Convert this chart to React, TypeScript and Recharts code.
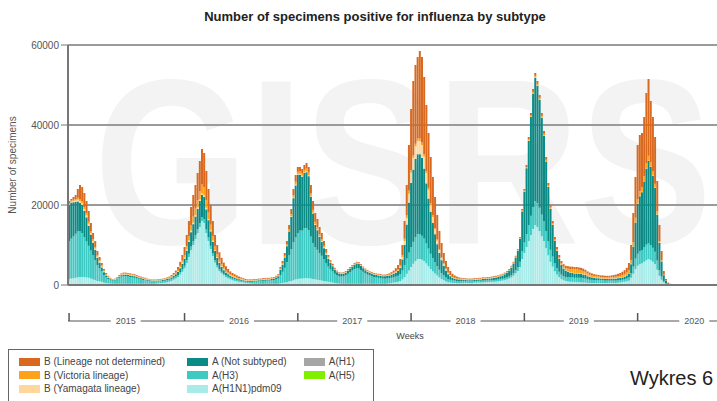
import React from "react";
import { BarChart, Bar, XAxis, YAxis, CartesianGrid } from "recharts";

const FONT = '"Liberation Sans", Arial, sans-serif';

const YEARS = [2015, 2016, 2017, 2018, 2019, 2020];
const WEEKS_IN_YEAR = [53, 52, 52, 52, 52, 53];
const Y_TICKS = [0, 20000, 40000, 60000];

// weekly positives, in thousands of specimens (2020 stops after the last reported week)
const pdm09K = [
  // 2015
  1.5, 1.6, 1.7, 1.8, 1.9, 2.0, 2.0, 2.0, 1.9, 1.8, 1.6, 1.4, 1.2, 1.0, 0.9, 0.8, 0.6, 0.5, 0.4, 0.35,
  0.3, 0.3, 0.3, 0.3, 0.3, 0.3, 0.3, 0.3, 0.3, 0.3, 0.3, 0.3, 0.3, 0.3, 0.3, 0.3, 0.3, 0.3, 0.3, 0.3,
  0.35, 0.4, 0.45, 0.5, 0.6, 0.7, 0.8, 1.0, 1.3, 1.6, 2.0, 2.6, 3.3,
  // 2016
  4.2, 5.5, 7.0, 8.7, 10, 11.5, 13, 14.5, 16, 15.5, 13, 11, 9, 7.2, 5.6, 4.4, 3.5, 2.9, 2.4, 2.0,
  1.7, 1.4, 1.2, 1.0, 0.9, 0.8, 0.7, 0.6, 0.5, 0.45, 0.4, 0.35, 0.3, 0.3, 0.3, 0.3, 0.3, 0.3, 0.3, 0.3,
  0.3, 0.3, 0.3, 0.3, 0.4, 0.5, 0.6, 0.7, 0.9, 1.0, 1.2, 1.4,
  // 2017
  1.5, 1.6, 1.6, 1.7, 1.7, 1.7, 1.6, 1.5, 1.4, 1.3, 1.2, 1.1, 1.0, 0.9, 0.8, 0.7, 0.6, 0.5, 0.4, 0.35,
  0.3, 0.3, 0.3, 0.3, 0.3, 0.3, 0.3, 0.3, 0.3, 0.3, 0.3, 0.3, 0.3, 0.3, 0.3, 0.3, 0.3, 0.3, 0.3, 0.3,
  0.3, 0.35, 0.4, 0.5, 0.6, 0.7, 0.8, 1.0, 1.4, 2.0, 2.8, 3.6,
  // 2018
  4.5, 5.3, 6.0, 6.5, 6.5, 6.3, 6.0, 5.4, 4.7, 4.0, 3.4, 2.9, 2.4, 1.9, 1.5, 1.2, 0.9, 0.7, 0.6, 0.5,
  0.5, 0.45, 0.45, 0.45, 0.45, 0.5, 0.5, 0.5, 0.5, 0.55, 0.55, 0.6, 0.6, 0.65, 0.65, 0.7, 0.7, 0.75, 0.8, 0.85,
  0.9, 1.0, 1.1, 1.2, 1.4, 1.6, 1.9, 2.3, 2.9, 3.5, 4.5, 6.5,
  // 2019
  8, 9.5, 11, 12.5, 14, 15, 14.5, 13.5, 12.2, 11, 9.2, 7.4, 5.8, 4.6, 3.4, 2.6, 2.0, 1.5, 1.2, 1.0,
  0.9, 0.8, 0.8, 0.7, 0.7, 0.7, 0.7, 0.6, 0.6, 0.5, 0.5, 0.5, 0.5, 0.5, 0.5, 0.5, 0.5, 0.5, 0.5, 0.5,
  0.5, 0.5, 0.5, 0.6, 0.6, 0.7, 0.8, 0.9, 1.1, 1.8, 2.8, 4.0,
  // 2020
  4.8, 5.2, 5.4, 5.8, 6.2, 6.5, 6.2, 5.8, 5.2, 3.8, 2.3, 1.3, 0.6, 0.25, 0.1, 0.05,
];

const h3K = [
  // 2015
  9.5, 10, 10.5, 11, 11.5, 11.5, 11, 10, 9, 8, 7, 6, 5, 4, 3.3, 2.6, 1.9, 1.4, 1.1, 0.85,
  0.7, 0.8, 1.1, 1.5, 1.8, 1.9, 1.9, 1.8, 1.7, 1.6, 1.5, 1.4, 1.25, 1.1, 0.95, 0.9, 0.75, 0.7, 0.6, 0.6,
  0.55, 0.55, 0.5, 0.5, 0.5, 0.5, 0.5, 0.5, 0.5, 0.5, 0.5, 0.6, 0.6,
  // 2016
  0.6, 0.7, 0.8, 0.9, 1.0, 1.0, 1.0, 1.0, 1.0, 1.0, 0.9, 0.9, 0.8, 0.7, 0.6, 0.5, 0.5, 0.4, 0.4, 0.4,
  0.4, 0.4, 0.4, 0.4, 0.4, 0.35, 0.35, 0.35, 0.35, 0.35, 0.4, 0.45, 0.55, 0.55, 0.65, 0.65, 0.75, 0.75, 0.8, 0.8,
  0.85, 0.9, 1.1, 1.3, 2.1, 2.8, 3.7, 5.0, 6.5, 8.0, 9.5, 10.5,
  // 2017
  11.5, 12, 12, 12.5, 12.5, 12, 10.5, 9, 8, 7.5, 6.8, 6.2, 5.4, 4.5, 3.8, 3.2, 2.8, 2.3, 2.0, 1.8,
  1.8, 1.9, 2.1, 2.5, 2.9, 3.3, 3.7, 3.9, 3.8, 3.4, 3.0, 2.6, 2.3, 2.1, 1.9, 1.7, 1.6, 1.5, 1.4, 1.3,
  1.3, 1.3, 1.3, 1.3, 1.3, 1.4, 1.5, 1.7, 2.2, 3.0, 3.8, 4.5,
  // 2018
  5, 5.5, 6, 6.2, 6.2, 6, 5.6, 5.0, 4.4, 3.8, 3.3, 2.8, 2.3, 1.9, 1.5, 1.2, 1.0, 0.8, 0.7, 0.6,
  0.6, 0.55, 0.55, 0.55, 0.5, 0.5, 0.45, 0.45, 0.45, 0.45, 0.45, 0.45, 0.45, 0.45, 0.45, 0.45, 0.45, 0.45, 0.45, 0.45,
  0.45, 0.45, 0.45, 0.5, 0.5, 0.5, 0.6, 0.7, 0.8, 1.0, 1.3, 2.0,
  // 2019
  2.6, 3.2, 4.0, 4.8, 5.5, 6, 6, 5.8, 5.4, 5.0, 4.3, 3.6, 3.0, 2.5, 2.0, 1.6, 1.3, 1.1, 1.0, 1.0,
  1.1, 1.1, 1.1, 1.1, 1.1, 1.1, 1.1, 1.1, 1.0, 0.9, 0.8, 0.8, 0.7, 0.7, 0.7, 0.7, 0.7, 0.6, 0.6, 0.6,
  0.6, 0.6, 0.6, 0.6, 0.6, 0.6, 0.6, 0.7, 0.8, 1.2, 1.8, 2.6,
  // 2020
  3.0, 3.2, 3.3, 3.6, 3.9, 4.0, 3.8, 3.5, 3.1, 2.3, 1.4, 0.8, 0.35, 0.15, 0.06, 0.03,
];

const notSubtypedK = [
  // 2015
  9, 9, 8.5, 8, 7.5, 7, 7, 6.5, 6, 5, 4, 3.2, 2.6, 1.8, 1.4, 1.0, 0.7, 0.5, 0.35, 0.25,
  0.2, 0.2, 0.25, 0.3, 0.35, 0.4, 0.4, 0.4, 0.4, 0.4, 0.4, 0.35, 0.3, 0.3, 0.25, 0.2, 0.2, 0.2, 0.2, 0.2,
  0.2, 0.2, 0.2, 0.25, 0.25, 0.3, 0.35, 0.4, 0.5, 0.6, 0.8, 1.0, 1.4,
  // 2016
  1.8, 2.4, 3.0, 3.6, 4.2, 4.6, 5.0, 5.5, 5.5, 5.5, 5.0, 4.3, 3.6, 2.9, 2.3, 1.9, 1.5, 1.2, 0.9, 0.7,
  0.6, 0.5, 0.4, 0.4, 0.35, 0.3, 0.3, 0.25, 0.2, 0.2, 0.2, 0.2, 0.25, 0.25, 0.25, 0.25, 0.25, 0.25, 0.3, 0.3,
  0.35, 0.4, 0.5, 0.6, 1.3, 1.8, 2.6, 4.0, 6.0, 8.0, 11, 13,
  // 2017
  14.5, 14, 13.5, 13.8, 14, 13.5, 10.0, 7.4, 5.6, 4.9, 4.0, 3.5, 2.8, 2.2, 2.0, 1.6, 1.3, 1.0, 0.8, 0.7,
  0.65, 0.65, 0.7, 0.8, 0.9, 1.0, 1.1, 1.2, 1.2, 1.1, 0.9, 0.8, 0.7, 0.6, 0.6, 0.6, 0.6, 0.6, 0.6, 0.6,
  0.6, 0.6, 0.7, 0.8, 0.9, 1.0, 1.2, 1.6, 2.8, 5.0, 8.5, 12.5,
  // 2018
  16, 18, 19.5, 20, 20, 19.5, 17.5, 15, 12.5, 10.5, 8.8, 7.0, 5.5, 4.2, 3.2, 2.4, 1.7, 1.2, 0.9, 0.7,
  0.5, 0.45, 0.4, 0.4, 0.35, 0.3, 0.25, 0.25, 0.25, 0.3, 0.3, 0.35, 0.35, 0.4, 0.4, 0.45, 0.45, 0.5, 0.55, 0.6,
  0.65, 0.75, 0.85, 1.0, 1.2, 1.5, 1.9, 2.4, 3.2, 4.1, 5.8, 9.9,
  // 2019
  12.7, 16.5, 21, 24.7, 28.3, 30.8, 29.3, 27, 24.2, 21.3, 17.4, 13.5, 10.2, 7.9, 5.6, 4.3, 3.2, 2.4, 1.9, 1.6,
  1.3, 1.2, 1.1, 1.1, 1.1, 1.0, 1.0, 0.9, 0.9, 0.8, 0.7, 0.6, 0.6, 0.5, 0.5, 0.4, 0.4, 0.4, 0.4, 0.4,
  0.5, 0.5, 0.5, 0.5, 0.6, 0.6, 0.7, 0.8, 1.0, 2.2, 5.0, 9.0,
  // 2020
  12.5, 13.8, 14.5, 16.5, 19, 20.5, 19.5, 18, 16, 11.5, 6.8, 3.8, 1.5, 0.65, 0.26, 0.13,
];

const yamagataK = [
  // 2015
  0.2, 0.2, 0.3, 0.3, 0.4, 0.5, 0.5, 0.5, 0.5, 0.5, 0.4, 0.4, 0.3, 0.3, 0.3, 0.2, 0.2, 0.1, 0.1, 0.1,
  0.1, 0.1, 0.1, 0.1, 0.1, 0.1, 0.1, 0.1, 0.1, 0.1, 0.1, 0.1, 0.1, 0.1, 0.1, 0.1, 0.1, 0.1, 0.1, 0.1,
  0.1, 0.1, 0.1, 0.1, 0.1, 0.1, 0.1, 0.1, 0.1, 0.1, 0.2, 0.2, 0.3,
  // 2016
  0.3, 0.3, 0.4, 0.4, 0.4, 0.4, 0.4, 0.4, 0.4, 0.4, 0.4, 0.3, 0.3, 0.3, 0.2, 0.2, 0.2, 0.2, 0.2, 0.1,
  0.1, 0.1, 0.1, 0.1, 0.1, 0.1, 0.1, 0.1, 0.1, 0.1, 0.1, 0.1, 0.1, 0.1, 0.1, 0.1, 0.1, 0.1, 0.1, 0.1,
  0.1, 0.1, 0.1, 0.1, 0.1, 0.1, 0.1, 0.1, 0.1, 0.2, 0.2, 0.2,
  // 2017
  0.2, 0.2, 0.2, 0.2, 0.2, 0.2, 0.2, 0.2, 0.2, 0.2, 0.2, 0.2, 0.2, 0.2, 0.2, 0.15, 0.1, 0.1, 0.1, 0.1,
  0.1, 0.1, 0.1, 0.1, 0.1, 0.1, 0.1, 0.1, 0.1, 0.1, 0.1, 0.1, 0.1, 0.1, 0.1, 0.1, 0.1, 0.1, 0.1, 0.1,
  0.1, 0.1, 0.1, 0.1, 0.1, 0.2, 0.2, 0.3, 0.6, 1.0, 1.6, 2.2,
  // 2018
  2.6, 3.0, 3.2, 3.3, 3.3, 3.2, 3.0, 2.6, 2.2, 1.8, 1.5, 1.2, 0.9, 0.7, 0.5, 0.4, 0.3, 0.2, 0.2, 0.1,
  0.1, 0.1, 0.1, 0.1, 0.1, 0.1, 0.1, 0.1, 0.1, 0.1, 0.1, 0.1, 0.1, 0.1, 0.1, 0.1, 0.1, 0.1, 0.1, 0.1,
  0.1, 0.1, 0.1, 0.1, 0.1, 0.1, 0.1, 0.1, 0.1, 0.1, 0.1, 0.1,
  // 2019
  0.1, 0.1, 0.1, 0.1, 0.1, 0.1, 0.1, 0.1, 0.1, 0.1, 0.1, 0.1, 0.1, 0.1, 0.1, 0.1, 0.1, 0.1, 0.1, 0.1,
  0.1, 0.1, 0.1, 0.1, 0.1, 0.1, 0.1, 0.1, 0.1, 0.1, 0.1, 0.1, 0.1, 0.1, 0.1, 0.1, 0.1, 0.1, 0.1, 0.1,
  0.1, 0.1, 0.1, 0.1, 0.1, 0.1, 0.1, 0.1, 0.1, 0.1, 0.1, 0.1,
  // 2020
  0.1, 0.1, 0.1, 0.1, 0.1, 0.1, 0.1, 0.1, 0.1, 0.1, 0.1, 0.05, 0.05, 0.02, 0.01, 0,
];

const victoriaK = [
  // 2015
  0.3, 0.3, 0.3, 0.4, 0.5, 0.5, 0.5, 0.5, 0.5, 0.5, 0.4, 0.4, 0.4, 0.3, 0.3, 0.3, 0.2, 0.2, 0.15, 0.1,
  0.1, 0.1, 0.1, 0.1, 0.15, 0.2, 0.2, 0.2, 0.2, 0.2, 0.2, 0.15, 0.15, 0.1, 0.1, 0.1, 0.1, 0.1, 0.1, 0.1,
  0.1, 0.1, 0.1, 0.1, 0.1, 0.1, 0.1, 0.2, 0.2, 0.3, 0.3, 0.4, 0.5,
  // 2016
  0.6, 0.8, 1.0, 1.3, 1.5, 1.6, 1.8, 2.0, 2.2, 2.1, 1.9, 1.6, 1.4, 1.1, 0.9, 0.7, 0.6, 0.5, 0.4, 0.4,
  0.3, 0.3, 0.3, 0.3, 0.25, 0.2, 0.15, 0.15, 0.1, 0.1, 0.1, 0.1, 0.1, 0.1, 0.1, 0.1, 0.1, 0.1, 0.1, 0.1,
  0.1, 0.1, 0.1, 0.15, 0.2, 0.2, 0.3, 0.3, 0.4, 0.5, 0.6, 0.7,
  // 2017
  0.6, 0.6, 0.6, 0.6, 0.7, 0.7, 0.7, 0.7, 0.6, 0.6, 0.5, 0.5, 0.4, 0.3, 0.25, 0.2, 0.2, 0.15, 0.1, 0.1,
  0.1, 0.1, 0.1, 0.1, 0.1, 0.1, 0.1, 0.1, 0.1, 0.1, 0.1, 0.1, 0.1, 0.1, 0.1, 0.1, 0.1, 0.1, 0.1, 0.1,
  0.1, 0.1, 0.1, 0.1, 0.2, 0.2, 0.3, 0.4, 0.5, 0.6, 0.7, 0.8,
  // 2018
  0.6, 0.6, 0.6, 0.6, 0.6, 0.6, 0.6, 0.5, 0.5, 0.4, 0.4, 0.3, 0.3, 0.3, 0.2, 0.2, 0.2, 0.2, 0.1, 0.1,
  0.1, 0.1, 0.1, 0.1, 0.1, 0.1, 0.1, 0.1, 0.1, 0.1, 0.1, 0.1, 0.1, 0.1, 0.1, 0.1, 0.1, 0.1, 0.1, 0.1,
  0.1, 0.1, 0.1, 0.1, 0.1, 0.1, 0.1, 0.1, 0.1, 0.1, 0.1, 0.2,
  // 2019
  0.2, 0.2, 0.3, 0.3, 0.4, 0.4, 0.4, 0.4, 0.4, 0.4, 0.3, 0.3, 0.3, 0.3, 0.3, 0.3, 0.3, 0.3, 0.4, 0.5,
  0.7, 0.8, 0.9, 0.9, 0.9, 0.9, 0.8, 0.8, 0.7, 0.6, 0.5, 0.5, 0.4, 0.4, 0.3, 0.3, 0.3, 0.3, 0.3, 0.3,
  0.3, 0.3, 0.4, 0.4, 0.4, 0.5, 0.5, 0.6, 0.7, 0.9, 1.0, 1.1,
  // 2020
  1.1, 1.1, 1.1, 1.2, 1.2, 1.2, 1.1, 1.0, 0.9, 0.7, 0.4, 0.25, 0.1, 0.05, 0.02, 0.01,
];

const lineageNotDeterminedK = [
  // 2015
  0.5, 0.4, 0.7, 1.0, 2.2, 3.5, 3.5, 3.5, 3.1, 2.7, 2.1, 1.6, 1.5, 1.1, 0.8, 0.6, 0.4, 0.3, 0.2, 0.15,
  0.1, 0.1, 0.15, 0.2, 0.2, 0.2, 0.2, 0.2, 0.2, 0.2, 0.2, 0.2, 0.2, 0.2, 0.2, 0.2, 0.15, 0.1, 0.1, 0.1,
  0.1, 0.15, 0.15, 0.15, 0.15, 0.2, 0.25, 0.3, 0.4, 0.5, 0.7, 1.0, 1.4,
  // 2016
  2.0, 2.8, 3.8, 4.6, 5.4, 5.9, 6.8, 7.6, 8.9, 8.5, 7.3, 5.9, 4.9, 3.8, 2.9, 2.3, 1.9, 1.6, 1.3, 1.1,
  0.9, 0.7, 0.6, 0.5, 0.4, 0.35, 0.3, 0.25, 0.25, 0.2, 0.2, 0.2, 0.2, 0.2, 0.2, 0.2, 0.2, 0.2, 0.2, 0.2,
  0.2, 0.2, 0.2, 0.25, 0.4, 0.6, 0.7, 0.9, 1.1, 1.3, 1.5, 1.7,
  // 2017
  1.2, 1.1, 1.1, 1.2, 1.4, 1.4, 2.0, 2.2, 2.2, 2.0, 1.8, 1.5, 1.2, 0.9, 0.45, 0.35, 0.3, 0.25, 0.2, 0.15,
  0.15, 0.15, 0.2, 0.2, 0.2, 0.2, 0.2, 0.2, 0.2, 0.2, 0.2, 0.2, 0.2, 0.2, 0.2, 0.2, 0.2, 0.2, 0.2, 0.2,
  0.2, 0.25, 0.3, 0.4, 0.5, 0.7, 1.0, 1.5, 2.5, 4.4, 7.6, 11.4,
  // 2018
  15.3, 18.6, 19.7, 20.4, 21.9, 21.4, 19.3, 16.5, 13.7, 11.5, 9.6, 7.8, 6.1, 4.5, 3.6, 2.6, 1.9, 1.4, 1.0, 0.8,
  0.6, 0.45, 0.3, 0.2, 0.2, 0.2, 0.2, 0.2, 0.2, 0.2, 0.2, 0.2, 0.2, 0.2, 0.2, 0.2, 0.2, 0.2, 0.2, 0.2,
  0.2, 0.2, 0.2, 0.2, 0.2, 0.2, 0.2, 0.2, 0.2, 0.2, 0.2, 0.3,
  // 2019
  0.4, 0.5, 0.6, 0.6, 0.7, 0.7, 0.7, 0.7, 0.7, 0.7, 0.7, 0.6, 0.6, 0.6, 0.6, 0.6, 0.6, 0.6, 0.6, 0.6,
  0.6, 0.6, 0.6, 0.6, 0.6, 0.6, 0.6, 0.6, 0.5, 0.5, 0.5, 0.4, 0.4, 0.4, 0.4, 0.4, 0.4, 0.4, 0.4, 0.4,
  0.4, 0.5, 0.5, 0.6, 0.7, 0.8, 1.0, 1.2, 1.8, 3.8, 7.3, 10.2,
  // 2020
  13.5, 14.1, 13.6, 14.8, 17.6, 19.2, 15.3, 13.6, 11.7, 7.6, 4.0, 2.3, 0.9, 0.38, 0.15, 0.08,
];

// stacking order, bottom to top
const SERIES = [
  { key: "pdm09", name: "A(H1N1)pdm09", color: "#a9ebe8", values: pdm09K },
  { key: "h3", name: "A(H3)", color: "#3ec9c3", values: h3K },
  { key: "notSubtyped", name: "A (Not subtyped)", color: "#0c8a85", values: notSubtypedK },
  { key: "yamagata", name: "B (Yamagata lineage)", color: "#ffd69c", values: yamagataK },
  { key: "victoria", name: "B (Victoria lineage)", color: "#ffa21a", values: victoriaK },
  { key: "bNotDet", name: "B (Lineage not determined)", color: "#d8691f", values: lineageNotDeterminedK },
];

const LEGEND_COLUMNS = [
  [
    { name: "B (Lineage not determined)", color: "#d8691f" },
    { name: "B (Victoria lineage)", color: "#ffa21a" },
    { name: "B (Yamagata lineage)", color: "#ffd69c" },
  ],
  [
    { name: "A (Not subtyped)", color: "#0c8a85" },
    { name: "A(H3)", color: "#3ec9c3" },
    { name: "A(H1N1)pdm09", color: "#a9ebe8" },
  ],
  [
    { name: "A(H1)", color: "#a6a6a6" },
    { name: "A(H5)", color: "#80f000" },
  ],
];

const weeks: string[] = [];
YEARS.forEach((y, i) => {
  for (let w = 1; w <= WEEKS_IN_YEAR[i]; w++) weeks.push(`${y}-W${w}`);
});

// year boundaries plus a mid-year slot for each label
const yearTicks: string[] = [];
YEARS.forEach((y, i) => {
  yearTicks.push(`${y}-W1`);
  yearTicks.push(`${y}-W${Math.ceil(WEEKS_IN_YEAR[i] / 2)}`);
});

const rows = weeks.map((week, i) => {
  const row: Record<string, string | number | undefined> = { week };
  for (const s of SERIES) {
    const v = s.values[i];
    row[s.key] = v === undefined ? undefined : v * 1000;
  }
  return row;
});

function YearTick(props: any) {
  const { x, y, payload } = props;
  const [yr, wk] = String(payload.value).split("-W");
  if (wk === "1") {
    return <line x1={x} x2={x} y1={y - 8} y2={y} stroke="#555" strokeWidth={1.5} />;
  }
  return (
    <g>
      <rect x={x - 15} y={y - 6} width={30} height={12} fill="#fff" />
      <text x={x} y={y} dy={3} textAnchor="middle" fontSize={9} fill="#555" fontFamily={FONT}>
        {yr}
      </text>
    </g>
  );
}

export default function App() {
  return (
    <div
      style={{
        position: "absolute",
        left: 0,
        top: 0,
        width: 717,
        height: 401,
        overflow: "hidden",
        background: "#fff",
        fontFamily: FONT,
      }}
    >
      <svg width={717} height={401} style={{ position: "absolute", left: 0, top: 0 }}>
        <text
          x={94}
          y={244}
          fontSize={236}
          fontWeight="bold"
          fill="#f3f3f3"
          fontFamily={FONT}
          textLength={618}
          lengthAdjust="spacingAndGlyphs"
        >
          GISRS
        </text>
      </svg>

      <div
        style={{
          position: "absolute",
          left: 375,
          top: 9,
          transform: "translateX(-50%)",
          whiteSpace: "nowrap",
          fontSize: 13,
          fontWeight: "bold",
          color: "#222",
        }}
      >
        Number of specimens positive for influenza by subtype
      </div>

      <div
        style={{
          position: "absolute",
          left: 12,
          top: 165,
          transform: "translate(-50%, -50%) rotate(-90deg)",
          fontSize: 10,
          color: "#555",
          whiteSpace: "nowrap",
        }}
      >
        Number of specimens
      </div>

      <div style={{ position: "absolute", left: 0, top: 0 }}>
        <BarChart
          width={752}
          height={345}
          data={rows}
          margin={{ top: 45, right: 0, left: 0, bottom: 10 }}
          barCategoryGap="5%"
          barGap={0}
        >
          <CartesianGrid xAxisId="wk" vertical={false} stroke="#9a9a9a" strokeWidth={2} />
          <XAxis
            xAxisId="wk"
            dataKey="week"
            interval={0}
            tick={false}
            tickSize={3}
            tickLine={{ stroke: "#888" }}
            axisLine={{ stroke: "#777", strokeWidth: 2 }}
            height={36}
          />
          <XAxis
            xAxisId="yr"
            dataKey="week"
            ticks={yearTicks}
            interval={0}
            tickSize={0}
            tickMargin={0}
            tickLine={false}
            tick={<YearTick />}
            axisLine={{ stroke: "#555" }}
            height={14}
          />
          <YAxis
            width={68}
            domain={[0, 60000]}
            ticks={Y_TICKS}
            interval={0}
            tickSize={7}
            tickMargin={2}
            tick={{ fontSize: 10, fill: "#555", fontFamily: FONT }}
            tickLine={{ stroke: "#777" }}
            axisLine={{ stroke: "#777", strokeWidth: 2 }}
          />
          {SERIES.map((s) => (
            <Bar
              key={s.key}
              xAxisId="wk"
              dataKey={s.key}
              name={s.name}
              stackId="flu"
              fill={s.color}
              isAnimationActive={false}
            />
          ))}
        </BarChart>
      </div>

      <div
        style={{
          position: "absolute",
          left: 410,
          top: 331,
          transform: "translateX(-50%)",
          fontSize: 9,
          color: "#444",
        }}
      >
        Weeks
      </div>

      <div
        style={{
          position: "absolute",
          left: 8,
          top: 349,
          width: 366,
          height: 60,
          border: "1px solid #666",
          boxSizing: "border-box",
          display: "flex",
          paddingLeft: 10,
          paddingTop: 5,
        }}
      >
        {LEGEND_COLUMNS.map((col, ci) => (
          <div key={ci} style={{ width: ci === 0 ? 170 : ci === 1 ? 118 : 70 }}>
            {col.map((item) => (
              <div key={item.name} style={{ display: "flex", alignItems: "center", height: 13.5 }}>
                <span
                  style={{ display: "inline-block", width: 21, height: 8, background: item.color, marginRight: 4 }}
                />
                <span style={{ fontSize: 10, color: "#444", whiteSpace: "nowrap" }}>{item.name}</span>
              </div>
            ))}
          </div>
        ))}
      </div>

      <div
        style={{
          position: "absolute",
          left: 630,
          top: 367,
          fontSize: 20,
          color: "#222",
          whiteSpace: "nowrap",
        }}
      >
        Wykres 6
      </div>
    </div>
  );
}
